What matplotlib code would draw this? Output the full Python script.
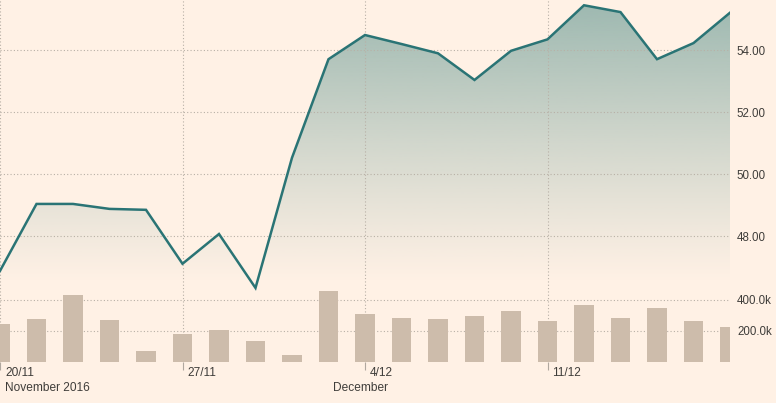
import numpy as np
import matplotlib
matplotlib.use('Agg')
import matplotlib.pyplot as plt
import matplotlib.transforms as mtransforms
from matplotlib.patches import Polygon

plt.rcParams['font.family'] = ['Liberation Sans', 'DejaVu Sans']

# trading days, 18/11/2016 .. 16/12/2016 (ordinal positions)
price = [46.88, 49.04, 49.04, 48.88, 48.85, 47.11, 48.07, 46.33, 50.53, 53.71,
         54.49, 54.20, 53.90, 53.04, 53.98, 54.35, 55.45, 55.23, 53.71, 54.23,
         55.21]
volume = [245e3, 277e3, 432e3, 271e3, 71e3, 181e3, 206e3, 135e3, 45e3, 458e3,
          310e3, 284e3, 277e3, 297e3, 329e3, 265e3, 368e3, 284e3, 348e3, 265e3,
          226e3]
tick_pos = [0, 5, 10, 15]
tick_labels = ['20/11', '27/11', '4/12', '11/12']
month_pos = [0, 9]
month_labels = ['November 2016', 'December']
price_ticks = [48, 50, 52, 54]
vol_ticks = [200e3, 400e3]
vol_tick_labels = ['200.0k', '400.0k']

bg = '#fff1e5'
line_c = '#2a7475'
bar_c = '#cdbcab'
grid_c = '#b8b0a6'
text_c = '#3f3d3a'

x = np.arange(len(price))

fig = plt.figure(figsize=(7.76, 4.03), dpi=100, facecolor=bg)
ax = fig.add_axes([0, 41 / 403, 730 / 776, 362 / 403])
ax.set_facecolor(bg)
ax.set_xlim(0, len(price) - 1)
ax.set_ylim(43.94, 55.62)

# gradient fill under the price line
grad = np.zeros((256, 1, 4))
top_rgb = np.array([0x9c, 0xb8, 0xb0]) / 255
grad[:, 0, :3] = top_rgb
t = np.linspace(1, 0, 256)
grad[:, 0, 3] = np.clip((t - 0.22) / 0.78, 0, 1) ** 1.1
im = ax.imshow(grad, aspect='auto', extent=[0, len(price) - 1, 43.94, 55.62],
               origin='upper', zorder=1)
verts = [(0, 43.94)] + list(zip(x, price)) + [(len(price) - 1, 43.94)]
poly = Polygon(verts, closed=True, facecolor='none', edgecolor='none')
ax.add_patch(poly)
im.set_clip_path(poly)
ax.plot(x, price, color=line_c, lw=1.8, zorder=5, solid_joinstyle='miter')

ax.set_xticks(tick_pos)
ax.set_xticklabels([])
ax.tick_params(axis='x', length=6, width=0.8, color='#b0a89f', direction='out')
ax.grid(True, color=grid_c, linestyle=(0, (1, 2)), lw=0.8, zorder=0)
for s in ax.spines.values():
    s.set_visible(False)

# volume bars on overlaid axis
ax2 = ax.twinx()
ax2.set_ylim(0, 2335e3)
ax2.set_xlim(0, len(price) - 1)
ax2.set_axisbelow(True)
ax2.bar(x, volume, width=0.53, color=bar_c, zorder=3)
ax2.set_yticks(vol_ticks)
ax2.set_yticklabels(vol_tick_labels)
ax2.tick_params(axis='y', length=0, pad=5, labelsize=8.3, colors=text_c)
ax2.yaxis.grid(True, color=grid_c, linestyle=(0, (1, 2)), lw=0.8)
for s in ax2.spines.values():
    s.set_visible(False)

# price labels on the right too
ax.yaxis.tick_right()
ax.set_yticks(price_ticks)
ax.set_yticklabels(['%.2f' % v for v in price_ticks])
ax.tick_params(axis='y', left=False, right=False, labelleft=False,
               labelright=True, length=0, pad=5, labelsize=8.3, colors=text_c)

# date labels
off = mtransforms.ScaledTranslation(5 / 100, 0, fig.dpi_scale_trans)
tr = mtransforms.blended_transform_factory(ax.transData, ax.transAxes) + off
for p, lab in zip(tick_pos, tick_labels):
    ax.text(p, -11 / 362, lab, transform=tr, ha='left', va='center',
            fontsize=8.6, color=text_c)
for p, lab in zip(month_pos, month_labels):
    ax.text(p, -26 / 362, lab, transform=tr, ha='left', va='center',
            fontsize=8.6, color=text_c)

fig.savefig('out.png', dpi=100, facecolor=bg)
